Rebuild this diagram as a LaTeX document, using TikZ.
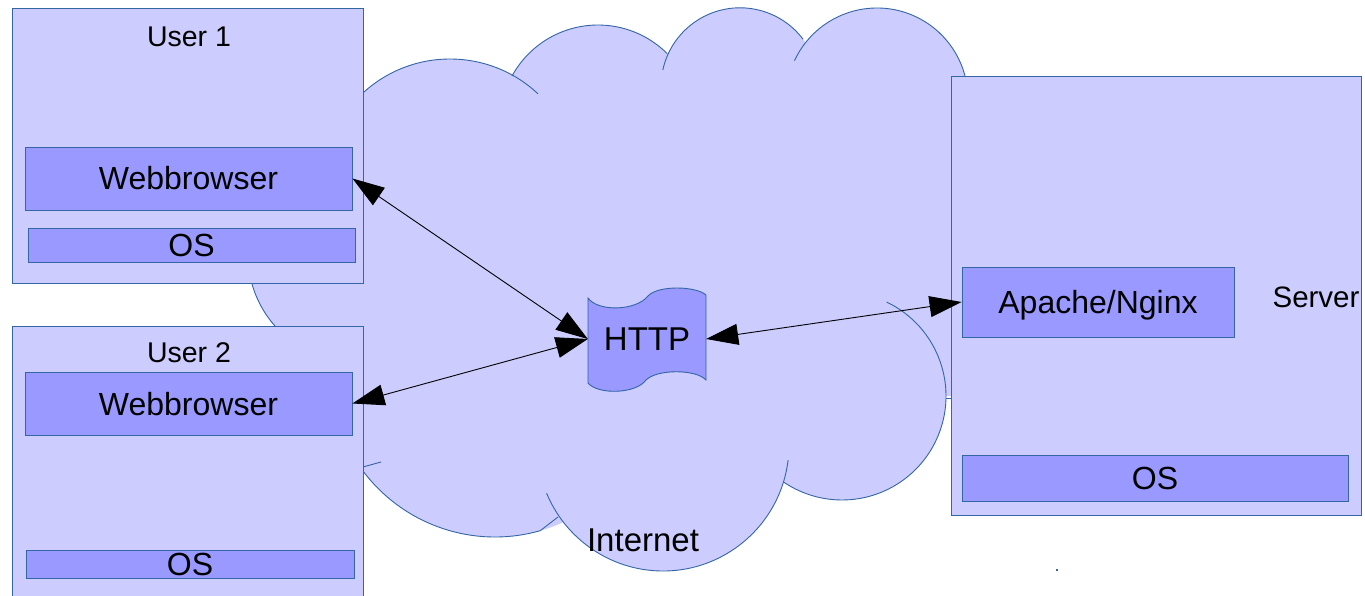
\documentclass[tikz,border=0pt]{standalone}
\usepackage{fontspec}
\setmainfont{Liberation Sans}
\usetikzlibrary{arrows.meta}
\definecolor{bord}{HTML}{3465A4}
\definecolor{light}{HTML}{CCCCFF}
\definecolor{mid}{HTML}{9999FF}
\begin{document}
\begin{tikzpicture}[x=1pt,y=-1pt,
  outer/.style={draw=bord, fill=light, line width=0.9pt, inner sep=0pt},
  inbox/.style={draw=bord, fill=mid, line width=0.9pt, inner sep=0pt,
    font=\fontsize{32}{38}\selectfont, text height=23pt, text depth=0pt},
  lbl/.style={inner sep=0pt, text depth=0pt},
  cloudline/.style={draw=bord, line width=0.9pt},
  arr/.style={{Triangle[length=32pt,width=21pt]}-{Triangle[length=32pt,width=21pt]}, line width=0.9pt, draw=black}
]
\path[use as bounding box] (0,0) rectangle (1365,596);
\clip (0,0) rectangle (1365,596);

% ---- cloud fill ----
\fill[light] (363,100) -- (450,188) -- (598,123) -- (740,87) -- (877,99) -- (955,90)
  -- (955,396) -- (842,396) -- (663,445) -- (495,372) -- (363,460) -- (355,255) -- cycle;
\fill[light] (355,255) circle[radius=107];
\fill[light] (450,187.6) circle[radius=128.6];
\fill[light] (598,123) circle[radius=98];
\fill[light] (740,86.8) circle[radius=79];
\fill[light] (877,99) circle[radius=91];
\fill[light] (842,396) circle[radius=104];
\fill[light] (663,445) circle[radius=126];
\fill[light] (495,372) circle[radius=165];

% ---- cloud outline ----
\draw[cloudline] (355,255) ++(170:107) arc[start angle=170, end angle=130, radius=107];
\draw[cloudline] (450,187.6) ++(225:128.6) arc[start angle=225, end angle=313.2, radius=128.6];
\draw[cloudline] (598,123) ++(208.7:98) arc[start angle=208.7, end angle=315, radius=98];
\draw[cloudline] (740,86.8) ++(192.3:79) arc[start angle=192.3, end angle=323, radius=79];
\draw[cloudline] (877,99) ++(204.9:91) arc[start angle=204.9, end angle=352, radius=91];
\draw[cloudline] (842,396) ++(-64.5:104) arc[start angle=-64.5, end angle=124, radius=104];
\draw[cloudline] (663,445) ++(6.9:126) arc[start angle=6.9, end angle=157.5, radius=126];
\draw[cloudline] (495,372) ++(74.1:165) arc[start angle=74.1, end angle=150, radius=165];
\draw[cloudline] (540.2,530.7) -- (558,517);
\draw[cloudline] (363,467) -- (381,462);
\draw[cloudline] (946,398) -- (952,398);

% ---- outer boxes ----
\node[outer, minimum width=351pt, minimum height=275pt] (user1) at (187.5,145.5) {};
\node[outer, minimum width=351pt, minimum height=290pt] (user2) at (187.5,471) {};
\node[outer, minimum width=410pt, minimum height=439pt] (server) at (1156,295.5) {};

% ---- inner boxes ----
\node[inbox, minimum width=327pt, minimum height=63pt] (wb1) at (188.5,178.5) {Webbrowser};
\node[inbox, minimum width=327pt, minimum height=34pt] (os1) at (191.5,245) {OS};
\node[inbox, minimum width=327pt, minimum height=63pt] (wb2) at (188.5,403.5) {Webbrowser};
\node[inbox, minimum width=328pt, minimum height=28pt] (os2) at (190,564) {OS};
\node[inbox, minimum width=272pt, minimum height=70pt] (apache) at (1098,302) {Apache/Nginx};
\node[inbox, minimum width=386pt, minimum height=46pt] (oss) at (1155,478) {OS};

% ---- labels ----
\node[lbl, text height=20.4pt, font=\fontsize{28.5}{34}\selectfont] (u1lbl) at (189,36) {User 1};
\node[lbl, text height=20.4pt, font=\fontsize{28.5}{34}\selectfont] (u2lbl) at (189,352) {User 2};
\node[lbl, text height=21.1pt, font=\fontsize{29.5}{35}\selectfont] (srvlbl) at (1316,297) {Server};
\node[lbl, text height=23.6pt, font=\fontsize{33}{40}\selectfont] (inet) at (643,540) {Internet};

% ---- HTTP tape ----
\draw[draw=bord, fill=mid, line width=0.9pt] (588,298) .. controls (598,312) and (636,311) .. (648,296)
  .. controls (658,285) and (696,286) .. (706,295) -- (706,380)
  .. controls (696,369) and (657,369) .. (646,380)
  .. controls (636,394) and (598,395) .. (588,383) -- cycle;
\node[lbl, text height=23.6pt, font=\fontsize{33}{40}\selectfont, minimum width=118pt, minimum height=85pt] (http) at (647,339) {HTTP};

% ---- arrows ----
\draw[arr] (wb1.east) -- (http.west);
\draw[arr] (wb2.east) -- (http.west);
\draw[arr] (http.east) -- (apache.west);

% ---- stray dots ----
\fill[bord] (1056,569) rectangle (1058,571);
\end{tikzpicture}
\end{document}
